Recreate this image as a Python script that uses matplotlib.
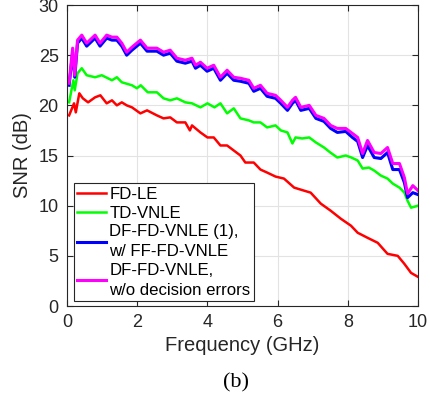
import matplotlib.pyplot as plt

plt.rcParams['font.family'] = ['Liberation Sans', 'DejaVu Sans']

# FD-LE
f_fdle = [0.06, 0.20, 0.25, 0.35, 0.45, 0.60, 0.80, 0.95, 1.13, 1.28, 1.42, 1.56, 1.70, 1.85,
          2.09, 2.28, 2.56, 2.75, 2.94, 3.13, 3.37, 3.50, 3.56, 3.80, 4.00, 4.18, 4.37, 4.56,
          4.75, 4.94, 5.08, 5.32, 5.51, 5.70, 5.94, 6.18, 6.47, 6.75, 6.94, 7.23, 7.51, 7.80,
          8.09, 8.28, 8.56, 8.85, 9.13, 9.42, 9.61, 9.80, 10.0]
snr_fdle = [19.0, 20.2, 19.3, 21.2, 20.7, 20.3, 20.8, 21.0, 20.2, 20.5, 20.0, 20.3, 20.0, 19.8,
            19.2, 19.5, 19.0, 18.7, 18.8, 18.3, 18.3, 17.5, 18.0, 17.3, 16.8, 16.8, 16.0, 16.0,
            15.5, 15.0, 14.3, 14.3, 13.6, 13.3, 12.9, 12.7, 11.8, 11.5, 11.3, 10.2, 9.5, 8.7,
            8.0, 7.3, 6.8, 6.3, 5.2, 5.0, 4.2, 3.3, 2.9]

# TD-VNLE
f_tdvnle = [0.06, 0.18, 0.22, 0.30, 0.42, 0.56, 0.80, 0.99, 1.28, 1.42, 1.56, 1.85, 1.99, 2.10,
            2.30, 2.56, 2.75, 2.94, 3.13, 3.37, 3.56, 3.80, 4.00, 4.20, 4.37, 4.56, 4.75, 4.94,
            5.18, 5.32, 5.51, 5.70, 5.94, 6.09, 6.28, 6.42, 6.51, 6.70, 6.90, 7.09, 7.32, 7.50,
            7.70, 7.94, 8.10, 8.28, 8.42, 8.60, 8.75, 8.94, 9.13, 9.28, 9.47, 9.61, 9.70, 9.80, 10.0]
snr_tdvnle = [20.3, 22.5, 21.5, 23.2, 23.7, 23.0, 22.8, 23.0, 22.5, 22.8, 22.3, 22.0, 21.7, 22.0,
              21.3, 21.3, 20.7, 20.5, 20.7, 20.3, 20.2, 19.8, 20.2, 19.8, 20.2, 19.2, 19.7, 18.7,
              18.5, 18.3, 18.3, 17.8, 18.0, 17.5, 17.3, 16.2, 16.8, 16.7, 16.8, 16.3, 15.8, 15.3,
              14.8, 15.0, 14.8, 14.5, 13.7, 13.8, 13.5, 13.0, 12.7, 12.2, 11.8, 11.3, 10.5, 9.8, 10.0]

# DF-FD-VNLE curves (shared frequency grid)
f_df = [0.06, 0.16, 0.22, 0.30, 0.42, 0.56, 0.80, 0.94, 1.13, 1.28, 1.42, 1.56, 1.70, 1.85,
        2.09, 2.28, 2.56, 2.75, 2.94, 3.13, 3.37, 3.56, 3.66, 3.80, 3.99, 4.18, 4.37, 4.56,
        4.75, 4.94, 5.18, 5.32, 5.51, 5.70, 5.94, 6.09, 6.28, 6.42, 6.51, 6.66, 6.90, 7.09,
        7.32, 7.51, 7.70, 7.94, 8.13, 8.28, 8.42, 8.56, 8.75, 8.94, 9.13, 9.28, 9.47, 9.61,
        9.70, 9.85, 10.0]
snr_df_ff = [22.0, 25.3, 22.8, 26.2, 26.7, 25.9, 26.7, 25.9, 26.7, 26.5, 26.5, 25.9, 25.0, 25.5,
             26.2, 25.4, 25.4, 25.0, 25.2, 24.4, 24.2, 24.4, 23.7, 24.0, 23.4, 23.7, 22.5, 23.2,
             22.5, 22.4, 22.2, 21.4, 21.7, 20.9, 20.7, 20.2, 19.5, 20.2, 20.5, 19.5, 19.7, 18.7,
             18.4, 17.7, 17.3, 17.4, 16.8, 16.4, 14.8, 16.0, 14.8, 14.7, 15.3, 13.6, 13.6, 12.3,
             10.8, 11.3, 11.1]
snr_df_ideal = [22.2, 25.7, 23.0, 26.5, 27.0, 26.2, 27.0, 26.2, 27.0, 26.8, 26.8, 26.2, 25.3, 25.8,
                26.5, 25.7, 25.7, 25.3, 25.5, 24.7, 24.5, 24.7, 24.0, 24.3, 23.7, 24.0, 22.8, 23.5,
                22.8, 22.7, 22.5, 21.7, 22.0, 21.2, 21.0, 20.5, 19.8, 20.5, 20.8, 19.8, 20.0, 19.0,
                18.7, 18.0, 17.7, 17.7, 17.2, 16.8, 15.2, 16.5, 15.3, 15.2, 15.8, 14.2, 14.2, 12.8,
                11.2, 12.0, 11.5]

xticks = [0, 2, 4, 6, 8, 10]
yticks = [0, 5, 10, 15, 20, 25, 30]

fig = plt.figure(figsize=(4.31, 3.95), dpi=100)
ax = fig.add_axes([0.1555, 0.2253, 0.8145, 0.7620])

ax.plot(f_fdle, snr_fdle, color='#ff0000', lw=1.8, label='FD-LE')
ax.plot(f_tdvnle, snr_tdvnle, color='#00ff00', lw=1.8, label='TD-VNLE')
ax.plot(f_df, snr_df_ff, color='#0000ff', lw=2.2, label='DF-FD-VNLE (1),\nw/ FF-FD-VNLE')
ax.plot(f_df, snr_df_ideal, color='#ff00ff', lw=2.2, label='DF-FD-VNLE,\nw/o decision errors')

ax.set_xlim(0, 10)
ax.set_ylim(0, 30)
ax.set_xticks(xticks)
ax.set_yticks(yticks)
ax.grid(True, color='#e3e3e3', lw=0.8)
ax.set_axisbelow(True)
ax.tick_params(direction='in', length=4, width=0.8, labelsize=13, pad=6,
               top=True, right=True, colors='#262626')
for sp in ax.spines.values():
    sp.set_color('#262626')
    sp.set_linewidth(0.8)

ax.set_xlabel('Frequency (GHz)', fontsize=14.5, color='#262626', labelpad=3)
ax.set_ylabel('SNR (dB)', fontsize=14.5, color='#262626', labelpad=5)

leg = ax.legend(loc='lower left', bbox_to_anchor=(0.02, 0.017), borderaxespad=0,
                fontsize=12.1, handlelength=1.7, handletextpad=0.2, labelspacing=0.22,
                fancybox=False, framealpha=1, edgecolor='#262626', borderpad=0.2)
leg.get_frame().set_linewidth(0.8)
for t in leg.get_texts():
    t.set_linespacing(1.4)

fig.text(0.548, 0.030, '(b)', fontsize=16, family='Liberation Serif',
         ha='center', va='center')

fig.savefig('out.png', dpi=100)
